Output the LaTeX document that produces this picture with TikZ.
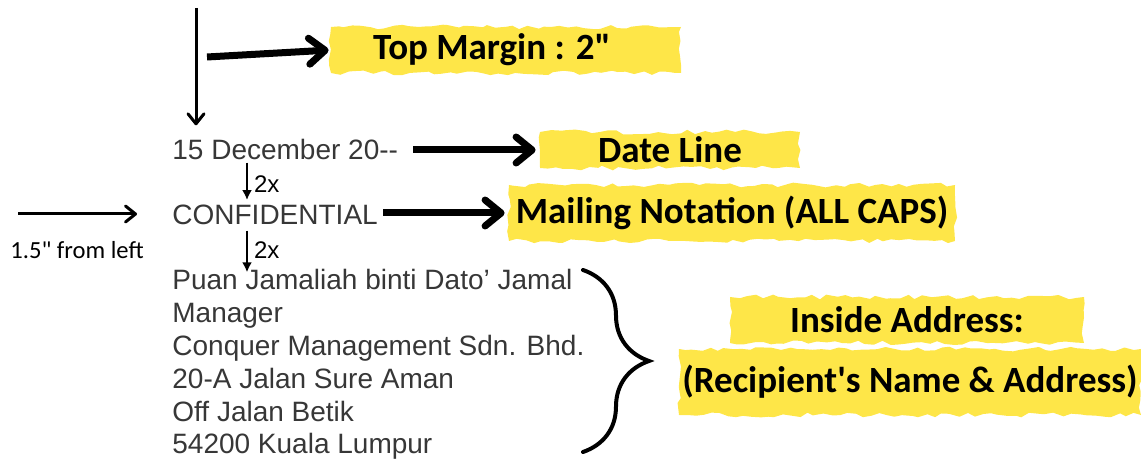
\documentclass[tikz,border=0pt]{standalone}
\usepackage{fontspec}
\usetikzlibrary{arrows.meta, positioning, decorations.pathmorphing, decorations.pathreplacing}
\newfontfamily\letterfont{Liberation Sans}
\newfontfamily\tagfont{Carlito}
\definecolor{HiYellow}{RGB}{254,230,72}
\definecolor{InkGray}{RGB}{55,55,55}

\begin{document}
\begin{tikzpicture}[
    x=0.5pt, y=-0.5pt,
    letter/.style={anchor=base west, inner sep=0pt, text=InkGray,
                   font=\letterfont\fontsize{14}{16}\selectfont},
    note/.style={inner sep=0pt, font=\letterfont\fontsize{12}{14}\selectfont},
    hilite/.style={fill=HiYellow, inner sep=0pt, text=black,
                   font=\tagfont\bfseries\fontsize{18.5}{22}\selectfont,
                   decorate, decoration={random steps, segment length=4pt, amplitude=1.2pt}},
    bigarr/.style={-{Straight Barb[length=8pt, width=13pt, line cap=round, line join=round]},
                   line width=3.5pt},
    thinarr/.style={-{Straight Barb[length=5pt, width=8pt, line cap=round, line join=round]},
                    line width=1.5pt},
    gaparr/.style={-{Latex[length=5pt, width=5pt]}, line width=1pt},
    bracket/.style={decorate, decoration={brace, amplitude=33pt}, line width=2pt, line cap=round}
]
\useasboundingbox (0,0) rectangle (1141,459);

% Letter lines
\node[letter] (date) at (172,160) {15 December 20-\kern0pt-};
\node[letter] (conf) at (172,225) {CONFIDENTIAL};
\foreach \txt [count=\i] in {Puan Jamaliah binti Dato’ Jamal, Manager,
        Conquer Management Sdn. Bhd., 20-A Jalan Sure Aman,
        Off Jalan Betik, 54200 Kuala Lumpur} {
    \node[letter] (ln\i) at (172,{290+32.8*(\i-1)}) {\txt};
}

% Highlighted labels
\node[hilite, minimum width=175pt, minimum height=23pt] (topLbl) at (506,50)
    {Top Margin : 2"\kern14pt\null};
\node[hilite, minimum width=130pt, minimum height=18pt] (dateLbl) at (670,150) {Date Line};
\node[hilite, minimum width=223pt, minimum height=28pt] (mailLbl) at (732,213)
    {Mailing Notation (ALL CAPS)};
\node[hilite, minimum width=177pt, minimum height=23pt] (insideLbl) at (907,320) {Inside Address:};
\node[hilite, minimum width=231pt, minimum height=33pt] (recipLbl) at (910,382)
    {(Recipient\char39 s Name \& Address)};

% Margin marks
\coordinate (mTop) at (196,8);
\coordinate (tmStart) at (207,57);
\coordinate (lmStart) at (18,214);
\coordinate (lmEnd) at (137,214);
\node[note, font=\tagfont\fontsize{12.3}{14}\selectfont] (fromLeft) at (77,250) {1.5" from left};

\coordinate (brTop) at (583,270);
\coordinate (brBot) at (583,452);

% Arrows
\draw[thinarr, shorten >=7pt] (mTop) -- ([xshift=12pt]date.north west);
\draw[thinarr] (lmStart) -- (lmEnd);
\draw[bigarr, shorten >=1pt] (tmStart) -- (topLbl.west);
\draw[bigarr, shorten <=7.5pt, shorten >=2pt] (date.east |- dateLbl.west) -- (dateLbl.west);
\draw[bigarr, shorten <=2.5pt, shorten >=2pt] (conf.east |- mailLbl.west) -- (mailLbl.west);

\draw[gaparr, shorten >=2.5pt] ([xshift=37.5pt,yshift=-1pt]date.south west)
    -- ([xshift=37.5pt]conf.north west) node[note, midway, right=3pt] (gapA) {2x};
\draw[gaparr, shorten >=-1.5pt] ([xshift=37.5pt,yshift=-2.5pt]conf.south west)
    -- ([xshift=37.5pt]ln1.north west) node[note, midway, right=3pt] (gapB) {2x};

\draw[bracket] (brTop) -- (brBot);

\end{tikzpicture}
\end{document}
